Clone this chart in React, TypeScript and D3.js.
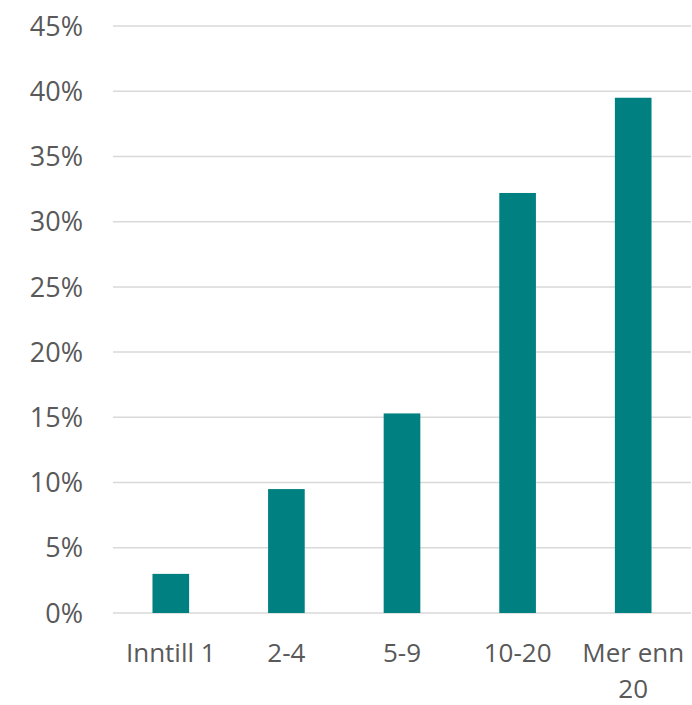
import React from "react";
import * as d3 from "d3";

const categories = ["Inntill 1", "2-4", "5-9", "10-20", "Mer enn 20"];
const values = [3.0, 9.5, 15.3, 32.2, 39.5];
const yTicks = [0, 5, 10, 15, 20, 25, 30, 35, 40, 45];

const W = 692, H = 705;
const left = 113, right = 691, top = 26, bottom = 613;

export default function App() {
  const x = d3.scaleBand<string>().domain(categories).range([left, right]).paddingInner(0.683).paddingOuter(0.3415);
  const y = d3.scaleLinear().domain([0, 45]).range([bottom, top]);
  const font = "'Open Sans', sans-serif";
  const wrap = (s: string) => (s === "Mer enn 20" ? ["Mer enn", "20"] : [s]);
  return (
    <svg width={W} height={H} style={{ position: "absolute", left: 0, top: 0, background: "#fff" }}>
      {yTicks.map((t) => (
        <g key={t}>
          <line x1={left} x2={right} y1={y(t)} y2={y(t)} stroke="#d9d9d9" strokeWidth={1.5} />
          <text x={83} y={y(t)} dy="0.36em" textAnchor="end" fontFamily={font} fontSize={27} fill="#595959">{t}%</text>
        </g>
      ))}
      {categories.map((c, i) => (
        <rect key={c} x={x(c)} y={y(values[i])} width={x.bandwidth()} height={bottom - y(values[i])} fill="#008080" />
      ))}
      {categories.map((c) => (
        <text key={c} x={(x(c) as number) + x.bandwidth() / 2} y={662} textAnchor="middle" fontFamily={font} fontSize={26} fill="#595959">
          {wrap(c).map((l, j) => (
            <tspan key={j} x={(x(c) as number) + x.bandwidth() / 2} dy={j === 0 ? 0 : 36}>{l}</tspan>
          ))}
        </text>
      ))}
    </svg>
  );
}
